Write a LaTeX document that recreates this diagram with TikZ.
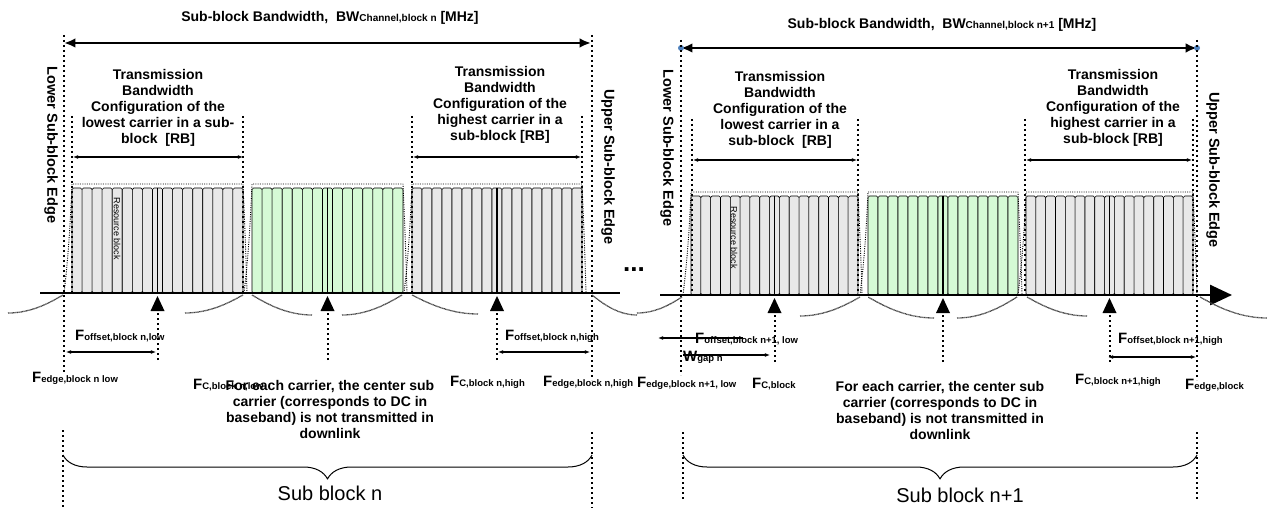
\documentclass[tikz,border=0pt]{standalone}
\usepackage{fontspec}
\setmainfont{Liberation Sans}
\usepackage{tikz}
\usetikzlibrary{arrows.meta, positioning, calc, decorations.pathreplacing}
\definecolor{RBgrey}{RGB}{232,232,232}
\definecolor{RBgreen}{RGB}{213,250,213}
\definecolor{EdgeBlue}{RGB}{79,129,189}
\tikzset{every node/.style={font=\fontsize{14}{16}\selectfont\bfseries, inner sep=0pt},
  every path/.style={line join=round},
  >={Latex[length=2mm, width=1.5mm]}}
\tikzset{
  axisline/.style={line width=2.6pt},
  edgeline/.style={line width=2pt, dash pattern=on 2pt off 3pt},
  envline/.style={line width=0.9pt, dash pattern=on 1pt off 1.3pt},
  skirt/.style={line width=1.3pt, dash pattern=on 0.8pt off 0.5pt, black!75},
  rbstrip/.style={draw, line width=0.6pt, rounded corners=1.5pt},
  dcline/.style={line width=1.5pt},
  dimarrow/.style={line width=1.1pt, {Latex[length=1.8mm,width=1.4mm]}-{Latex[length=1.8mm,width=1.4mm]}},
  bwarrow/.style={line width=2.6pt, {Latex[length=4mm,width=3.4mm]}-{Latex[length=4mm,width=3.4mm]}},
  tbwtext/.style={align=center},
  edgetext/.style={rotate=-90, font=\fontsize{14.5}{16}\selectfont\bfseries},
  flabel/.style={anchor=base west},
  rbtext/.style={rotate=-90, font=\fontsize{9}{10}\selectfont},
  notetext/.style={align=center},
  subblock/.style={font=\fontsize{20}{22}\selectfont},
}
\newcommand{\subtxt}[1]{{\fontsize{10}{11}\selectfont #1}}
\newcommand{\Flbl}[2]{{\fontsize{15}{15}\selectfont #1}{\fontsize{9.5}{10}\selectfont #2}}
% one carrier: left, right, top, bottom, strips, colour
\newcommand{\rbcarrier}[6]{%
  \foreach \i in {1,...,#5} {
    \pgfmathsetmacro{\rbxa}{#1+(\i-1)*(#2-#1)/#5}
    \pgfmathsetmacro{\rbxb}{#1+\i*(#2-#1)/#5}
    \draw[rbstrip, fill=#6] (\rbxa,#3) rectangle (\rbxb,#4);
  }
  \draw[dcline] ({(#1+#2)/2},#3) -- ({(#1+#2)/2},#4);
  \draw[envline] ({#1-8},#4) .. controls ({#1-3},{#4-40}) and ({#1-1},{#3+20}) .. ({#1},{#3-4})
    -- ({#2},{#3-4}) .. controls ({#2+1},{#3+20}) and ({#2+3},{#4-40}) .. ({#2+4},#4);
  \draw[edgeline] ({(#1+#2)/2},{#4+67}) -- ({(#1+#2)/2},{#4+17});
  \fill ({(#1+#2)/2-7},{#4+18}) -- ({(#1+#2)/2},{#4+3}) -- ({(#1+#2)/2+7},{#4+18}) -- cycle;
}
\newcommand{\skirtc}[4]{\draw[skirt] (#1,#2) .. controls ({#1+0.45*(#3-#1)},#2) and ({#3-0.2*(#3-#1)},{#4+0.35*(#2-#4)}) .. (#3,#4);}

\begin{document}
\begin{tikzpicture}[x=1pt, y=-1pt]
\useasboundingbox (0,0) rectangle (1267,508);

% ---- sub block n
\rbcarrier{72}{243}{188}{293}{17}{RBgrey}
\rbcarrier{252}{403}{188}{293}{15}{RBgreen}
\rbcarrier{412}{582}{188}{293}{17}{RBgrey}
\node[rbtext] (rbN) at (117,229) {Resource block};

\coordinate (nLo) at (64,43);
\coordinate (nUp) at (591,43);
\node (ttlN) at (330,18) {Sub-block Bandwidth,~ BW\subtxt{Channel,block n} [MHz]};
\draw[bwarrow] (nLo) -- (nUp);
\draw[edgeline] (64,35) -- (64,372);
\draw[edgeline] (592,35) -- (592,380);
\draw[edgeline] (63,430) -- (63,510);
\draw[edgeline] (592,432) -- (592,510);
\node[edgetext] (lowN) at (51,145) {Lower Sub-block Edge};
\node[edgetext] (upN) at (608,167) {Upper Sub-block Edge};

\node[tbwtext] (tbwNlow) at (158,108) {Transmission\\Bandwidth\\Configuration of the\\lowest carrier in a sub-\\block~ [RB]};
\node[tbwtext] (tbwNhigh) at (500,105) {Transmission\\Bandwidth\\Configuration of the\\highest carrier in a\\sub-block [RB]};
\foreach \x in {72,243,412,582}
  \draw[edgeline] (\x,116) -- (\x,293);
\draw[dimarrow] (73,157) -- (243,157);
\draw[dimarrow] (413,157) -- (581,157);

\draw[axisline] (40,293) -- (620,293);
\skirtc{8}{313}{63}{295}
\skirtc{185}{313}{243}{295}
\skirtc{312}{315}{252}{295}
\skirtc{342}{315}{402}{295}
\skirtc{478}{314}{412}{295}
\skirtc{637}{315}{592}{295}

\node[flabel] (offNlow) at (75,340) {\Flbl{F}{offset,block n,low}};
\draw[dimarrow] (66,352) -- (156,352);
\node[flabel] (offNhigh) at (505,340) {\Flbl{F}{offset,block n,high}};
\draw[dimarrow] (498,352) -- (590,352);

\node[flabel] (edgeNlow) at (32,382) {\Flbl{F}{edge,block n low}};
\node[flabel] (fcNlow) at (193,389) {\Flbl{F}{C,block n,low}};
\node[flabel] (fcNhigh) at (450,386) {\Flbl{F}{C,block n,high}};
\node[flabel] (edgeNhigh) at (543,386) {\Flbl{F}{edge,block n,high}};
\node[notetext] (noteN) at (330,409) {For each carrier, the center sub\\carrier (corresponds to DC in\\baseband) is not transmitted in\\downlink};

\draw[decorate, decoration={brace, mirror, amplitude=24pt}, line width=1pt] (63,455) -- (592,455);
\node[subblock] (sbN) at (330,493) {Sub block n};

\node[font=\fontsize{26}{26}\selectfont\bfseries] (gapdots) at (634,270) {...};

% ---- sub block n+1
\rbcarrier{691}{858}{196}{295}{17}{RBgrey}
\rbcarrier{868}{1018}{196}{295}{15}{RBgreen}
\rbcarrier{1026}{1193}{196}{295}{17}{RBgrey}
\node[rbtext] (rbM) at (734,238) {Resource block};

\coordinate (mLo) at (681,48);
\coordinate (mUp) at (1197,48);
\node (ttlM) at (942,25) {Sub-block Bandwidth,~ BW\subtxt{Channel,block n+1} [MHz]};
\draw[bwarrow] (mLo) -- (mUp);
\fill[EdgeBlue] (mLo) circle (3);
\fill[EdgeBlue] (mUp) circle (3);
\draw[edgeline] (681,40) -- (681,375);
\draw[edgeline] (1197,40) -- (1197,380);
\draw[edgeline] (683,432) -- (683,500);
\draw[edgeline] (1197,432) -- (1197,500);
\node[edgetext] (lowM) at (667,148) {Lower Sub-block Edge};
\node[edgetext] (upM) at (1213,170) {Upper Sub-block Edge};

\node[tbwtext] (tbwMlow) at (780,110) {Transmission\\Bandwidth\\Configuration of the\\lowest carrier in a\\sub-block~ [RB]};
\node[tbwtext] (tbwMhigh) at (1113,108) {Transmission\\Bandwidth\\Configuration of the\\highest carrier in a\\sub-block [RB]};
\foreach \x in {692,858,1025,1193}
  \draw[edgeline] (\x,119) -- (\x,295);
\draw[dimarrow] (693,160) -- (857,160);
\draw[dimarrow] (1026,160) -- (1192,160);

\draw[axisline, -{Triangle[length=22pt,width=20pt]}] (660,295) -- (1232,295);
\skirtc{637}{313}{682}{297}
\skirtc{800}{316}{860}{297}
\skirtc{934}{318}{868}{297}
\skirtc{957}{318}{1017}{297}
\skirtc{1087}{316}{1027}{297}
\skirtc{1267}{318}{1200}{297}

\node[flabel] (offMlow) at (695,343) {\Flbl{F}{offset,block n+1, low}};
\draw[line width=1.1pt, {Latex[length=1.8mm,width=1.4mm]}-] (658,338) -- (743,338);
\node[flabel] (wgap) at (683,361) {\Flbl{W}{gap n}};
\draw[line width=1.1pt, -{Latex[length=1.8mm,width=1.4mm]}] (683,355) -- (770,355);
\node[flabel] (offMhigh) at (1118,343) {\Flbl{F}{offset,block n+1,high}};
\draw[dimarrow] (1108,357) -- (1196,357);

\node[flabel] (edgeMlow) at (637,387) {\Flbl{F}{edge,block n+1, low}};
\node[flabel] (fcMlow) at (752,388) {\Flbl{F}{C,block}};
\node[flabel] (fcMhigh) at (1075,384) {\Flbl{F}{C,block n+1,high}};
\node[flabel] (edgeMhigh) at (1185,389) {\Flbl{F}{edge,block}};
\node[notetext] (noteM) at (940,410) {For each carrier, the center sub\\carrier (corresponds to DC in\\baseband) is not transmitted in\\downlink};

\draw[decorate, decoration={brace, mirror, amplitude=24pt}, line width=1pt] (683,455) -- (1197,455);
\node[subblock] (sbM) at (960,495) {Sub block n+1};
\end{tikzpicture}
\end{document}
